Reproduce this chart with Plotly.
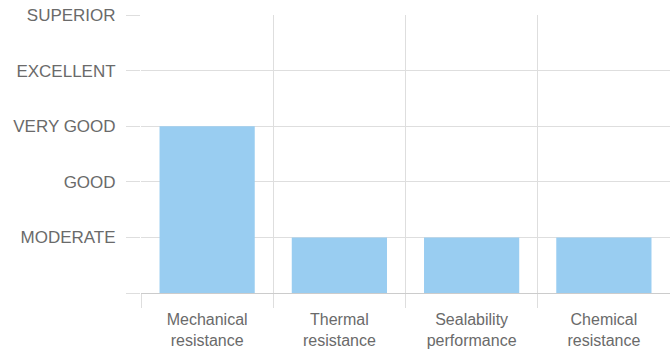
import plotly.graph_objects as go

# Ratings per property (0 = none, 1 = MODERATE ... 5 = SUPERIOR)
categories = ["Mechanical<br>resistance", "Thermal<br>resistance",
              "Sealability<br>performance", "Chemical<br>resistance"]
ratings = [3, 1, 1, 1]
level_values = [0, 1, 2, 3, 4, 5]
level_labels = ["", "MODERATE", "GOOD", "VERY GOOD", "EXCELLENT", "SUPERIOR"]

fig = go.Figure(
    go.Bar(
        x=categories,
        y=ratings,
        marker=dict(color="#99cdf1", line=dict(width=0)),
        hoverinfo="skip",
    )
)

base_font = "Liberation Sans, Arial, sans-serif"
grid = "#dedede"

fig.update_layout(
    width=670,
    height=352,
    margin=dict(l=141, r=0, t=15, b=59),
    paper_bgcolor="white",
    plot_bgcolor="white",
    bargap=0.28,
    showlegend=False,
    font=dict(family=base_font, size=16, color="#6a6a6a"),
)

fig.update_xaxes(
    type="category",
    tickson="boundaries",
    ticks="outside",
    ticklen=14,
    tickcolor=grid,
    tickwidth=1,
    showgrid=True,
    gridcolor=grid,
    gridwidth=1,
    showline=False,
    zeroline=False,
    ticklabelstandoff=15,
    tickfont=dict(family=base_font, size=16, color="#6a6a6a"),
    layer="above traces",
)

fig.update_yaxes(
    range=[0, 5],
    tickmode="array",
    tickvals=level_values,
    ticktext=level_labels,
    ticks="outside",
    ticklen=14,
    tickcolor=grid,
    showgrid=True,
    gridcolor=grid,
    gridwidth=1,
    zeroline=True,
    zerolinecolor="#cccccc",
    zerolinewidth=1,
    showline=False,
    ticklabelstandoff=7,
    tickfont=dict(family=base_font, size=17, color="#6a6a6a"),
    layer="above traces",
)

fig.write_html("out.html")
